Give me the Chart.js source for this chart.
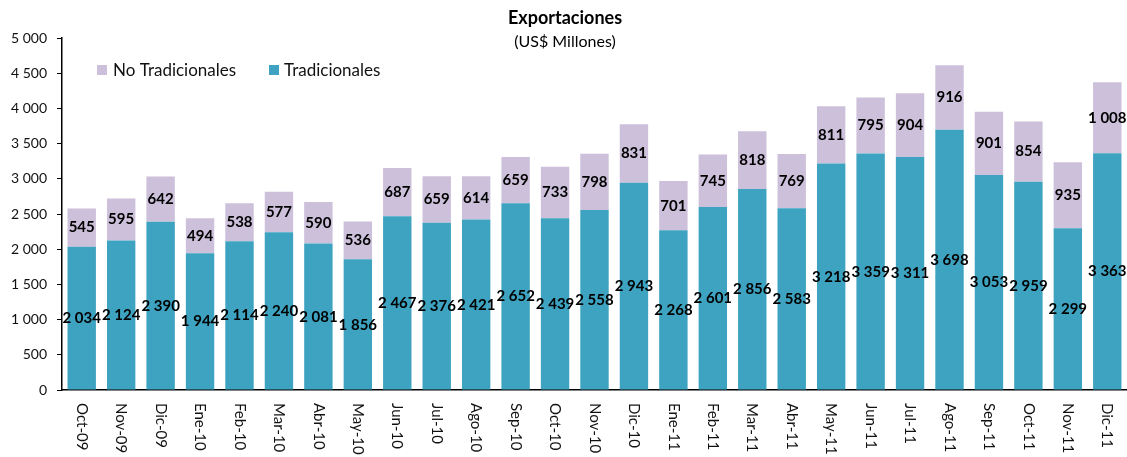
<!DOCTYPE html>
<html>
<head>
<meta charset="utf-8">
<script src="https://cdn.jsdelivr.net/npm/chart.js@4.4.0/dist/chart.umd.min.js"></script>
<style>
  html, body { margin: 0; padding: 0; background: #fff; }
  #wrap { width: 1127px; height: 457px; position: relative; }
</style>
</head>
<body>
<div id="wrap"><canvas id="exportChart"></canvas></div>
<script>
// Exportaciones mensuales (US$ millones)
const months = ['Oct-09', 'Nov-09', 'Dic-09', 'Ene-10', 'Feb-10', 'Mar-10', 'Abr-10', 'May-10', 'Jun-10',
    'Jul-10', 'Ago-10', 'Sep-10', 'Oct-10', 'Nov-10', 'Dic-10', 'Ene-11', 'Feb-11', 'Mar-11', 'Abr-11',
    'May-11', 'Jun-11', 'Jul-11', 'Ago-11', 'Sep-11', 'Oct-11', 'Nov-11', 'Dic-11'];
const tradicionales = [2034, 2124, 2390, 1944, 2114, 2240, 2081, 1856, 2467, 2376, 2421, 2652, 2439, 2558,
    2943, 2268, 2601, 2856, 2583, 3218, 3359, 3311, 3698, 3053, 2959, 2299, 3363];
const noTradicionales = [545, 595, 642, 494, 538, 577, 590, 536, 687, 659, 614, 659, 733, 798, 831, 701,
    745, 818, 769, 811, 795, 904, 916, 901, 854, 935, 1008];
const yTicks = [0, 500, 1000, 1500, 2000, 2500, 3000, 3500, 4000, 4500, 5000];

const FONT = 'Lato, "Open Sans", sans-serif';
const TEAL = '#3DA3C0';
const LILAC = '#CCC0DA';

function fmt(v) {
    return String(v).replace(/\B(?=(\d{3})+(?!\d))/g, ' ');
}

// Titles, legend, value labels and vertical month labels
const decorPlugin = {
    id: 'decor',
    afterDraw(chart) {
        const ctx = chart.ctx;
        const xs = chart.scales.x;
        const ys = chart.scales.y;
        ctx.save();

        // title
        ctx.fillStyle = '#000';
        ctx.textAlign = 'center';
        ctx.textBaseline = 'middle';
        ctx.font = 'bold 18px ' + FONT;
        ctx.fillText('Exportaciones', 565, 18);
        ctx.font = '16px ' + FONT;
        ctx.fillText('(US$ Millones)', 565, 42);

        // legend
        ctx.font = '17px ' + FONT;
        ctx.textAlign = 'left';
        ctx.fillStyle = LILAC;
        ctx.fillRect(97, 65, 10, 10);
        ctx.fillStyle = '#111';
        ctx.fillText('No Tradicionales', 113, 71);
        ctx.fillStyle = TEAL;
        ctx.fillRect(269, 65, 10, 10);
        ctx.fillStyle = '#111';
        ctx.fillText('Tradicionales', 284, 71);

        // value labels in the middle of each segment
        ctx.font = 'bold 15px ' + FONT;
        ctx.textAlign = 'center';
        ctx.fillStyle = '#000';
        months.forEach((m, i) => {
            const x = xs.getPixelForValue(i);
            const t = tradicionales[i];
            const n = noTradicionales[i];
            ctx.fillText(fmt(t), x, ys.getPixelForValue(t / 2));
            ctx.fillText(fmt(n), x, ys.getPixelForValue(t + n / 2));
        });

        // month labels, reading top to bottom
        ctx.font = '15px ' + FONT;
        ctx.fillStyle = '#111';
        ctx.textAlign = 'left';
        months.forEach((m, i) => {
            const x = xs.getPixelForValue(i);
            ctx.save();
            ctx.translate(x, chart.chartArea.bottom + 13);
            ctx.rotate(Math.PI / 2);
            ctx.fillText(m, 0, 0);
            ctx.restore();
        });
        ctx.restore();
    }
};

document.addEventListener('DOMContentLoaded', function() {
    const canvas = document.getElementById('exportChart');
    new Chart(canvas.getContext('2d'), {
        type: 'bar',
        data: {
            labels: months,
            datasets: [{
                label: 'Tradicionales',
                data: tradicionales,
                backgroundColor: TEAL,
                borderWidth: 0,
                barPercentage: 0.72,
                categoryPercentage: 1
            }, {
                label: 'No Tradicionales',
                data: noTradicionales,
                backgroundColor: LILAC,
                borderWidth: 0,
                barPercentage: 0.72,
                categoryPercentage: 1
            }]
        },
        options: {
            responsive: true,
            maintainAspectRatio: false,
            animation: false,
            layout: { padding: { top: 38, bottom: 59, left: 0, right: 0 } },
            plugins: {
                legend: { display: false },
                title: { display: false },
                tooltip: { enabled: false }
            },
            scales: {
                x: {
                    stacked: true,
                    grid: { display: false },
                    border: { display: true, color: '#000', width: 1.5 },
                    ticks: { display: false }
                },
                y: {
                    stacked: true,
                    min: 0,
                    max: 5000,
                    afterBuildTicks(scale) {
                        scale.ticks = yTicks.map(v => ({ value: v }));
                    },
                    afterFit(scale) {
                        scale.width = 62;
                    },
                    grid: { drawOnChartArea: false, drawTicks: true, tickLength: 5, color: '#000' },
                    border: { display: true, color: '#000', width: 1.5 },
                    ticks: {
                        padding: 10,
                        color: '#111',
                        font: { family: FONT, size: 14 },
                        callback: v => fmt(v)
                    }
                }
            }
        },
        plugins: [decorPlugin]
    });
});
</script>
</body>
</html>
